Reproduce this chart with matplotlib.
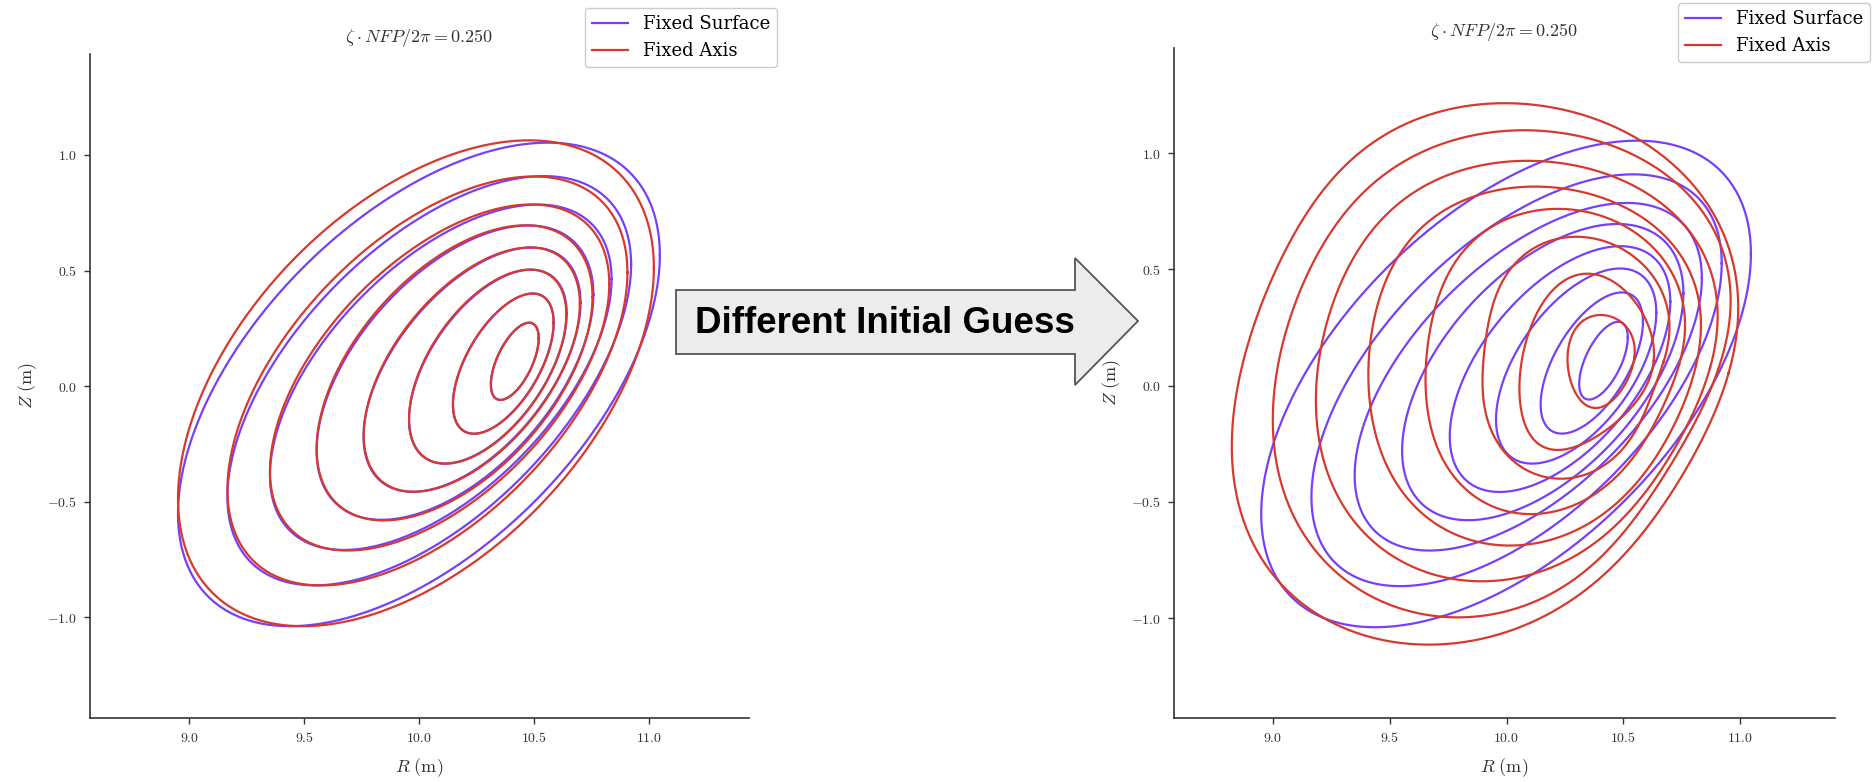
import numpy as np
import matplotlib
matplotlib.use("Agg")
import matplotlib.pyplot as plt
from matplotlib.patches import Polygon

plt.rcParams["mathtext.fontset"] = "cm"

# ---------------- flux surfaces, innermost -> outermost ----------------
# Fixed Surface solution (same in both panels): tilted ellipses
fs_R0 = [10.415, 10.365, 10.298, 10.229, 10.155, 10.093, 10.043, 9.998]
fs_Rc1 = [0.104, 0.219, 0.343, 0.472, 0.602, 0.743, 0.878, 1.048]
fs_Z0 = [0.107, 0.097, 0.084, 0.071, 0.058, 0.038, 0.023, 0.007]
fs_Zc1 = [0.100, 0.178, 0.230, 0.290, 0.338, 0.425, 0.503, 0.560]
fs_Zs1 = [0.134, 0.246, 0.351, 0.442, 0.540, 0.615, 0.729, 0.884]

# Fixed Axis solution, first initial guess (left panel)
fa1_R0 = [10.415, 10.365, 10.297, 10.228, 10.153, 10.088, 10.035, 9.985]
fa1_Rc1 = [0.104, 0.219, 0.342, 0.470, 0.600, 0.738, 0.870, 1.035]
fa1_Z0 = [0.107, 0.097, 0.084, 0.071, 0.057, 0.037, 0.022, 0.012]
fa1_Zc1 = [0.100, 0.176, 0.226, 0.284, 0.328, 0.405, 0.470, 0.500]
fa1_Zs1 = [0.134, 0.247, 0.354, 0.446, 0.548, 0.630, 0.750, 0.925]

# Fixed Axis solution, different initial guess (right panel), harmonics m = 1, 2, 3
fa2_R0 = [10.405, 10.343, 10.290, 10.203, 10.118, 10.042, 9.973, 9.903]
fa2_Rc = [[0.143, -0.001, 0.0], [0.287, 0.000, 0.0], [0.419, -0.004, -0.033], [0.573, -0.006, -0.031],
          [0.725, -0.008, -0.024], [0.862, -0.011, -0.022], [0.974, -0.013, -0.029], [1.082, 0.000, -0.035]]
fa2_Rs = [[0.010, 0.006, 0.0], [0.025, 0.001, 0.0], [0.015, 0.019, 0.018], [0.020, 0.026, 0.022],
          [0.022, 0.033, 0.022], [0.036, 0.030, 0.042], [0.053, 0.037, 0.061], [0.056, 0.010, 0.069]]
fa2_Z0 = [0.110, 0.089, 0.111, 0.100, 0.086, 0.070, 0.059, 0.052]
fa2_Zc = [[0.005, 0.006, 0.0], [0.042, -0.024, 0.0], [0.016, -0.012, -0.013], [0.021, -0.010, -0.020],
          [0.019, -0.003, -0.015], [0.034, -0.001, -0.027], [0.051, -0.002, -0.041], [0.058, -0.011, -0.047]]
fa2_Zs = [[0.199, -0.010, 0.0], [0.367, -0.039, 0.0], [0.485, -0.022, -0.032], [0.626, -0.033, -0.024],
          [0.758, -0.034, -0.009], [0.889, -0.037, -0.006], [1.019, -0.037, -0.014], [1.131, -0.043, -0.016]]

x_ticks = [9.0, 9.5, 10.0, 10.5, 11.0]
y_ticks = [-1.0, -0.5, 0.0, 0.5, 1.0]
title = r"$\zeta \cdot NFP/2\pi = 0.250$"

PURPLE = "#7640fb"
RED = "#d7392d"
LW = 1.6


def surface(r0, rc, rs, z0, zc, zs, n=400):
    t = np.linspace(0, 2 * np.pi, n)
    R = np.full_like(t, r0)
    Z = np.full_like(t, z0)
    for m, (a, b, c, d) in enumerate(zip(rc, rs, zc, zs), start=1):
        R += a * np.cos(m * t) + b * np.sin(m * t)
        Z += c * np.cos(m * t) + d * np.sin(m * t)
    return R, Z


def style_axes(ax, xlim, ylim):
    ax.set_xlim(xlim)
    ax.set_ylim(ylim)
    for s in ["top", "right"]:
        ax.spines[s].set_visible(False)
    for s in ["left", "bottom"]:
        ax.spines[s].set_color("#333333")
        ax.spines[s].set_linewidth(1.2)
    ax.set_xticks(x_ticks, labels=[r"$%.1f$" % v for v in x_ticks])
    ax.set_yticks(y_ticks, labels=[r"$%.1f$" % v for v in y_ticks])
    ax.tick_params(direction="out", length=4.5, width=1, color="#333333",
                   labelsize=10, labelcolor="#333333", pad=5)
    ax.set_xlabel(r"$R ~(\mathrm{m})$", fontsize=13, color="#333333", labelpad=8)
    ax.set_ylabel(r"$Z ~(\mathrm{m})$", fontsize=13, color="#333333", labelpad=6)
    ax.set_title(title, fontsize=13, color="#333333", pad=9)


fig = plt.figure(figsize=(18.74, 7.82), dpi=100)
ax1 = fig.add_axes([0.0480, 0.0818, 0.3517, 0.8491])
ax2 = fig.add_axes([0.6265, 0.0818, 0.3527, 0.8568])

# left panel
for i in range(len(fs_R0)):
    R, Z = surface(fs_R0[i], [fs_Rc1[i]], [0.0], fs_Z0[i], [fs_Zc1[i]], [fs_Zs1[i]])
    ax1.plot(R, Z, color=PURPLE, lw=LW, label="Fixed Surface" if i == 0 else None)
for i in range(len(fa1_R0)):
    R, Z = surface(fa1_R0[i], [fa1_Rc1[i]], [0.0], fa1_Z0[i], [fa1_Zc1[i]], [fa1_Zs1[i]])
    ax1.plot(R, Z, color=RED, lw=LW, label="Fixed Axis" if i == 0 else None)

# right panel
for i in range(len(fs_R0)):
    R, Z = surface(fs_R0[i], [fs_Rc1[i]], [0.0], fs_Z0[i], [fs_Zc1[i]], [fs_Zs1[i]])
    ax2.plot(R, Z, color=PURPLE, lw=LW, label="Fixed Surface" if i == 0 else None)
for i in range(len(fa2_R0)):
    R, Z = surface(fa2_R0[i], fa2_Rc[i], fa2_Rs[i], fa2_Z0[i], fa2_Zc[i], fa2_Zs[i])
    ax2.plot(R, Z, color=RED, lw=LW, label="Fixed Axis" if i == 0 else None)

style_axes(ax1, (8.567, 11.434), (-1.437, 1.437))
style_axes(ax2, (8.577, 11.406), (-1.430, 1.452))

W, H = 1874.0, 782.0
for ax, xr, yt in [(ax1, 777, 8), (ax2, 1870, 3)]:
    ax.legend(loc="upper right", bbox_to_anchor=(xr / W, 1 - yt / H),
              bbox_transform=fig.transFigure, borderaxespad=0,
              prop={"family": "DejaVu Serif", "size": 13},
              frameon=True, fancybox=True, edgecolor="#cccccc", framealpha=1)

# block arrow between panels
arrow_px = [(676, 290), (1075, 290), (1075, 258), (1138, 321),
            (1075, 385), (1075, 354), (676, 354)]
arrow = Polygon([(x / W, 1 - y / H) for x, y in arrow_px], closed=True,
                transform=fig.transFigure, facecolor="#ececec",
                edgecolor="#555555", lw=1.3, zorder=5)
fig.patches.append(arrow)
fig.text(885 / W, 1 - 323 / H, "Different Initial Guess", ha="center", va="center",
         family="Liberation Sans", weight="bold", fontsize=26.5, color="black", zorder=6)

fig.savefig("out.png", dpi=100)
